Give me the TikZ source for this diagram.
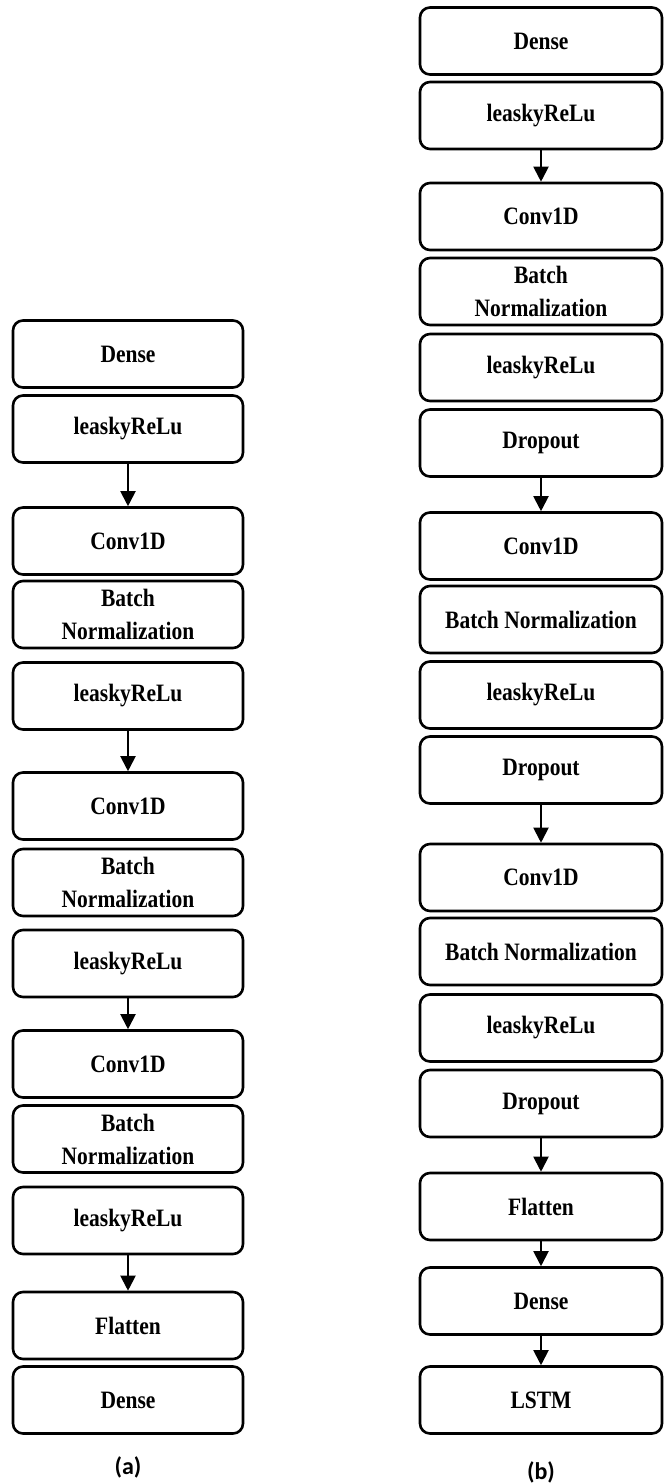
\documentclass[tikz,border=0pt]{standalone}
\usepackage{fontspec}
\setmainfont{Liberation Serif}[FakeStretch=0.86]
\newfontfamily\capfont{Carlito}
\usetikzlibrary{arrows.meta}
\tikzset{
  layer/.style={draw, rounded corners=5pt, line width=1.3pt, minimum height=33.5pt,
    inner sep=2pt, align=center, font=\fontsize{12.5}{16.5}\selectfont\bfseries},
  layera/.style={layer, minimum width=115pt},
  layerb/.style={layer, minimum width=121pt},
  flow/.style={-{Triangle[length=7.5pt,width=7.5pt]}, line width=1pt},
  caption/.style={font=\capfont\fontsize{12}{14}\selectfont\bfseries},
}
\begin{document}
\begin{tikzpicture}[x=0.5pt,y=-0.5pt]
  \useasboundingbox (0,0) rectangle (665,1484);
  % model (a)
  \node[layera] (aDense) at (128,354) {Dense};
  \node[layera] (aRelu1) at (128,429) {leaskyReLu};
  \node[layera] (aConv1) at (128,541) {Conv1D};
  \node[layera] (aNorm1) at (128,614.5) {Batch\\Normalization};
  \node[layera] (aRelu2) at (128,696) {leaskyReLu};
  \node[layera] (aConv2) at (128,806) {Conv1D};
  \node[layera] (aNorm2) at (128,882.5) {Batch\\Normalization};
  \node[layera] (aRelu3) at (128,963.5) {leaskyReLu};
  \node[layera] (aConv3) at (128,1064) {Conv1D};
  \node[layera] (aNorm3) at (128,1139) {Batch\\Normalization};
  \node[layera] (aRelu4) at (128,1220.5) {leaskyReLu};
  \node[layera] (aFlat) at (128,1325.5) {Flatten};
  \node[layera] (aOut) at (128,1400) {Dense};
  \draw[flow] (aRelu1) -- (aConv1);
  \draw[flow] (aRelu2) -- (aConv2);
  \draw[flow] (aRelu3) -- (aConv3);
  \draw[flow] (aRelu4) -- (aFlat);
  \node[caption] (capA) at (128,1467) {(a)};
  % model (b)
  \node[layerb] (bDense) at (541,41) {Dense};
  \node[layerb] (bRelu1) at (541,115.5) {leaskyReLu};
  \node[layerb] (bConv1) at (541,216.5) {Conv1D};
  \node[layerb] (bNorm1) at (541,291.5) {Batch\\Normalization};
  \node[layerb] (bRelu2) at (541,367.5) {leaskyReLu};
  \node[layerb] (bDrop1) at (541,443) {Dropout};
  \node[layerb] (bConv2) at (541,546) {Conv1D};
  \node[layerb] (bNorm2) at (541,619.5) {Batch Normalization};
  \node[layerb] (bRelu3) at (541,695) {leaskyReLu};
  \node[layerb] (bDrop2) at (541,770) {Dropout};
  \node[layerb] (bConv3) at (541,877.5) {Conv1D};
  \node[layerb] (bNorm3) at (541,951.5) {Batch Normalization};
  \node[layerb] (bRelu4) at (541,1028) {leaskyReLu};
  \node[layerb] (bDrop3) at (541,1103.5) {Dropout};
  \node[layerb] (bFlat) at (541,1206.5) {Flatten};
  \node[layerb] (bDense2) at (541,1301) {Dense};
  \node[layerb] (bLstm) at (541,1400) {LSTM};
  \draw[flow] (bRelu1) -- (bConv1);
  \draw[flow] (bDrop1) -- (bConv2);
  \draw[flow] (bDrop2) -- (bConv3);
  \draw[flow] (bDrop3) -- (bFlat);
  \draw[flow] (bFlat) -- (bDense2);
  \draw[flow] (bDense2) -- (bLstm);
  \node[caption] (capB) at (541,1472) {(b)};
\end{tikzpicture}
\end{document}
